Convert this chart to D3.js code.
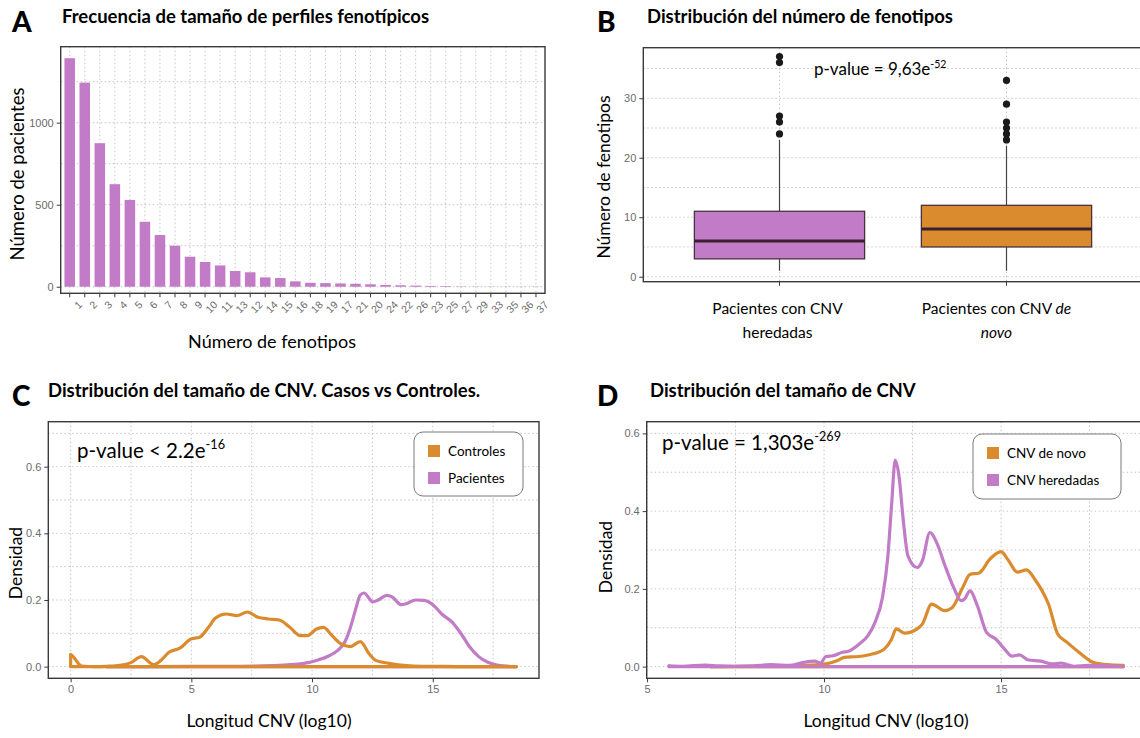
<!DOCTYPE html>
<html>
<head>
<meta charset="utf-8">
<script src="https://cdn.jsdelivr.net/npm/d3@7"></script>
<style>
  body { margin: 0; background: #fff; }
  svg { display: block; }
</style>
</head>
<body>
<svg id="fig" width="1140" height="738"></svg>
<script>
// ---------- Panel A: patients per phenotype-profile size ----------
const phenoLabels = ["1","2","3","4","5","6","7","8","9","10","11","13","12","14","15","16",
                     "18","19","17","21","20","24","22","26","23","25","27","29","33","35","36","37"];
const patientCounts = [1393, 1244, 875, 625, 529, 396, 315, 250, 183, 151, 130, 96, 88, 57, 53, 33,
                       24, 22, 20, 18, 15, 11, 9, 7, 5, 4, 2, 1, 1, 1, 1, 1];
const yTicksA = [0, 500, 1000];
const yGridA = [0, 250, 500, 750, 1000, 1250];

// ---------- Panel B: number of phenotypes per group ----------
const groupsB = ["heredadas", "denovo"];
const whiskerLow = [1, 1];
const quart1 = [3, 5];
const medians = [6, 8];
const quart3 = [11, 12];
const whiskerHigh = [23, 22];
const outliersB = [[24, 26, 27, 36, 37], [23, 24, 25, 26, 29, 33]];
const yTicksB = [0, 10, 20, 30];
const yGridB = [0, 5, 10, 15, 20, 25, 30, 35];

// ---------- Panel C: CNV length density, controls vs patients ----------
const ctrlX = [0, 0.05, 0.45, 1.0, 1.5, 2.05, 2.5, 2.93, 3.44, 3.73, 4.07, 4.54, 4.98, 5.34, 5.71, 6.0,
               6.44, 6.88, 7.32, 7.76, 8.2, 8.64, 9.08, 9.52, 9.81, 10.18, 10.47, 10.83, 11.2, 11.57,
               12.0, 12.37, 12.66, 13.18, 13.9, 14.6, 15.5, 16.5, 17.5, 18.45];
const ctrlY = [0.036, 0.034, 0.002, 0.0, 0.001, 0.004, 0.012, 0.030, 0.006, 0.018, 0.043, 0.056, 0.083,
               0.088, 0.118, 0.146, 0.158, 0.153, 0.164, 0.148, 0.143, 0.140, 0.118, 0.093, 0.093,
               0.113, 0.118, 0.093, 0.068, 0.060, 0.075, 0.038, 0.018, 0.010, 0.003, 0.001, 0.0005,
               0.0002, 0.0001, 0];
const patX = [1.5, 5, 7, 8.35, 9.66, 10.25, 10.69, 11.05, 11.35, 11.57, 11.79, 12.0, 12.15, 12.52,
              12.74, 13.1, 13.32, 13.69, 13.91, 14.28, 14.64, 15.0, 15.37, 15.81, 16.18, 16.54, 16.9,
              17.28, 17.72, 18.45];
const patY = [0, 0.0005, 0.001, 0.003, 0.010, 0.020, 0.032, 0.048, 0.073, 0.113, 0.168, 0.215, 0.221,
              0.194, 0.200, 0.214, 0.209, 0.186, 0.189, 0.200, 0.199, 0.186, 0.158, 0.133, 0.098,
              0.058, 0.030, 0.013, 0.004, 0];
const xTicksC = [0, 5, 10, 15];
const xGridC = [0, 2.5, 5, 7.5, 10, 12.5, 15, 17.5];
const yTicksC = [0, 0.2, 0.4, 0.6];
const yGridC = [0, 0.1, 0.2, 0.3, 0.4, 0.5, 0.6, 0.7];

// ---------- Panel D: CNV length density, de novo vs inherited ----------
const novoX = [6.8, 8, 9.43, 10.05, 10.36, 10.57, 10.98, 11.39, 11.7, 11.9, 12.04, 12.27, 12.63, 12.78,
               13.04, 13.4, 13.61, 13.92, 14.12, 14.38, 14.69, 15.0, 15.21, 15.46, 15.72, 15.98, 16.13,
               16.34, 16.6, 16.86, 17.2, 17.6, 18.0, 18.45];
const novoY = [0, 0.001, 0.003, 0.007, 0.015, 0.024, 0.026, 0.033, 0.045, 0.069, 0.097, 0.086, 0.097,
               0.110, 0.161, 0.144, 0.151, 0.204, 0.237, 0.241, 0.277, 0.296, 0.273, 0.243, 0.249,
               0.221, 0.200, 0.161, 0.084, 0.063, 0.037, 0.011, 0.005, 0.003];
const inhX = [5.62, 6.0, 6.65, 7.0, 7.47, 8.0, 8.5, 9.02, 9.43, 9.74, 9.9, 10.05, 10.26, 10.52, 10.67,
              10.98, 11.24, 11.44, 11.65, 11.8, 11.91, 12.01, 12.11, 12.24, 12.37, 12.63, 12.78, 12.99,
              13.2, 13.4, 13.66, 13.87, 13.97, 14.12, 14.33, 14.59, 14.85, 15.1, 15.31, 15.52, 15.77,
              16.13, 16.44, 16.7, 17.06, 17.47, 18.45];
const inhY = [0.002, 0.001, 0.004, 0.002, 0.001, 0.002, 0.005, 0.003, 0.011, 0.014, 0.009, 0.026, 0.028,
              0.037, 0.039, 0.057, 0.080, 0.114, 0.178, 0.281, 0.418, 0.531, 0.495, 0.375, 0.285,
              0.255, 0.273, 0.345, 0.315, 0.264, 0.204, 0.170, 0.174, 0.195, 0.157, 0.088, 0.071,
              0.045, 0.027, 0.030, 0.017, 0.014, 0.007, 0.009, 0.001, 0.003, 0];
const xTicksD = [5, 10, 15];
const xGridD = [5, 7.5, 10, 12.5, 15, 17.5];
const yTicksD = [0, 0.2, 0.4, 0.6];
const yGridD = [0, 0.1, 0.2, 0.3, 0.4, 0.5, 0.6];

// ---------- styling ----------
const svg = d3.select("#fig");
const TXT = "Lato, 'Open Sans', sans-serif";
const TICKF = "'Liberation Sans', Arial, sans-serif";
const PURPLE = "#c27bc6";
const ORANGE = "#da8b2e";
const FRAME = "#3a3a3a";
const GRID = "#c4c4c4";

function header(letter, title, lx, tx, base) {
  svg.append("text").attr("x", lx).attr("y", base + 9)
    .attr("font-family", TXT).attr("font-weight", 900).attr("font-size", 28).text(letter);
  svg.append("text").attr("x", tx).attr("y", base)
    .attr("font-family", TXT).attr("font-weight", 700).attr("font-size", 18.5).text(title);
}

function gridH(g, vals, y, x0, x1) {
  g.selectAll(null).data(vals).join("line")
    .attr("x1", x0).attr("x2", x1).attr("y1", d => y(d)).attr("y2", d => y(d))
    .attr("stroke", GRID).attr("stroke-width", 1).attr("stroke-dasharray", "1.5,2.5");
}
function gridV(g, vals, x, y0, y1) {
  g.selectAll(null).data(vals).join("line")
    .attr("y1", y0).attr("y2", y1).attr("x1", d => x(d)).attr("x2", d => x(d))
    .attr("stroke", GRID).attr("stroke-width", 1).attr("stroke-dasharray", "1.5,2.5");
}
function styleAxis(g) {
  g.select(".domain").remove();
  g.selectAll(".tick line").attr("stroke", FRAME).attr("stroke-width", 1);
  g.selectAll(".tick text").attr("fill", "#6b6b6b").attr("font-family", TICKF).attr("font-size", 11);
}
function frame(x0, y0, x1, y1) {
  svg.append("rect").attr("x", x0).attr("y", y0).attr("width", x1 - x0).attr("height", y1 - y0)
    .attr("fill", "none").attr("stroke", FRAME).attr("stroke-width", 1.4);
}
function axisTitleX(text, cx, base, size) {
  svg.append("text").attr("x", cx).attr("y", base).attr("text-anchor", "middle")
    .attr("font-family", TXT).attr("font-size", size).text(text);
}
function axisTitleY(text, x, cy, size) {
  svg.append("text").attr("transform", `translate(${x},${cy}) rotate(-90)`).attr("text-anchor", "middle")
    .attr("font-family", TXT).attr("font-size", size).text(text);
}
function pvalue(x, base, size, main, sup) {
  const t = svg.append("text").attr("x", x).attr("y", base)
    .attr("font-family", TXT).attr("font-size", size);
  t.append("tspan").text(main);
  t.append("tspan").attr("dy", -size * 0.42).attr("font-size", size * 0.62).text(sup);
}
function legend(x0, y0, w, h, items) {
  svg.append("rect").attr("x", x0).attr("y", y0).attr("width", w).attr("height", h).attr("rx", 9)
    .attr("fill", "#fff").attr("stroke", "#7a7a7a").attr("stroke-width", 1);
  items.forEach((it, i) => {
    const cy = y0 + 19 + i * 27;
    svg.append("rect").attr("x", x0 + 14).attr("y", cy - 6).attr("width", 12).attr("height", 12)
      .attr("fill", it.color);
    svg.append("text").attr("x", x0 + 34).attr("y", cy + 5)
      .attr("font-family", TXT).attr("font-size", 13.5).text(it.label);
  });
}
function density(g, xs, ys, x, y, color) {
  const pts = xs.map((d, i) => [x(d), y(ys[i])]);
  g.append("path").attr("d", d3.line().curve(d3.curveMonotoneX)(pts))
    .attr("fill", "none").attr("stroke", color).attr("stroke-width", 3.2)
    .attr("stroke-linejoin", "round").attr("stroke-linecap", "round");
  const n = xs.length - 1;
  const close = [[x(xs[n]), y(ys[n])], [x(xs[n]), y(0)], [x(xs[0]), y(0)], [x(xs[0]), y(ys[0])]];
  g.append("path").attr("d", d3.line()(close))
    .attr("fill", "none").attr("stroke", color).attr("stroke-width", 3.2)
    .attr("stroke-linejoin", "round").attr("stroke-linecap", "round");
}

// ================= Panel A =================
header("A", "Frecuencia de tamaño de perfiles fenotípicos", 12, 62, 23);
{
  const L = 60.7, R = 545, T = 46.7, B = 293.3;
  const x = d3.scaleBand().domain(phenoLabels).range([L, R]).paddingInner(0.3).paddingOuter(0.25);
  const y = d3.scaleLinear().domain([-40, 1463]).range([B, T]);
  const g = svg.append("g");
  gridH(g, yGridA, y, L, R);
  gridV(g, phenoLabels, d => x(d) + x.bandwidth() / 2, T, B);
  g.selectAll(null).data(phenoLabels).join("rect")
    .attr("x", d => x(d)).attr("width", x.bandwidth())
    .attr("y", (d, i) => y(patientCounts[i]))
    .attr("height", (d, i) => y(0) - y(patientCounts[i]))
    .attr("fill", PURPLE);
  const ay = svg.append("g").attr("transform", `translate(${L},0)`)
    .call(d3.axisLeft(y).tickValues(yTicksA).tickFormat(d3.format("d")).tickSize(4).tickPadding(3));
  styleAxis(ay);
  const ax = svg.append("g").attr("transform", `translate(0,${B})`)
    .call(d3.axisBottom(x).tickSize(4).tickPadding(3));
  styleAxis(ax);
  ax.selectAll(".tick text").attr("text-anchor", "end").attr("font-size", 10.5)
    .attr("transform", "translate(3,2) rotate(-45)").attr("dy", "0.7em");
  frame(L, T, R, B);
  axisTitleY("Número de pacientes", 24, 174, 18.5);
  axisTitleX("Número de fenotipos", 272, 348, 18);
}

// ================= Panel B =================
header("B", "Distribución del número de fenotipos", 597, 647, 23);
{
  const L = 643.3, R = 1142.7, T = 47.7, B = 281.7;
  const x = d3.scaleBand().domain(groupsB).range([L, R]).paddingInner(0.25).paddingOuter(0.225);
  const y = d3.scaleLinear().domain([-0.84, 38.5]).range([B, T]);
  const cx = d => x(d) + x.bandwidth() / 2;
  const g = svg.append("g");
  gridH(g, yGridB, y, L, R);
  gridV(g, groupsB, cx, T, B);
  const fills = [PURPLE, ORANGE];
  groupsB.forEach((grp, i) => {
    const c = cx(grp);
    g.append("line").attr("x1", c).attr("x2", c).attr("y1", y(whiskerLow[i])).attr("y2", y(quart1[i]))
      .attr("stroke", "#444").attr("stroke-width", 1.2);
    g.append("line").attr("x1", c).attr("x2", c).attr("y1", y(quart3[i])).attr("y2", y(whiskerHigh[i]))
      .attr("stroke", "#444").attr("stroke-width", 1.2);
    g.append("rect").attr("x", x(grp)).attr("width", x.bandwidth())
      .attr("y", y(quart3[i])).attr("height", y(quart1[i]) - y(quart3[i]))
      .attr("fill", fills[i]).attr("stroke", "#4a3040").attr("stroke-width", 1.3);
    g.append("line").attr("x1", x(grp)).attr("x2", x(grp) + x.bandwidth())
      .attr("y1", y(medians[i])).attr("y2", y(medians[i]))
      .attr("stroke", "#3a2030").attr("stroke-width", 3);
    g.selectAll(null).data(outliersB[i]).join("circle")
      .attr("cx", c).attr("cy", d => y(d)).attr("r", 3.6).attr("fill", "#1a1a1a");
  });
  const ay = svg.append("g").attr("transform", `translate(${L},0)`)
    .call(d3.axisLeft(y).tickValues(yTicksB).tickSize(4).tickPadding(3));
  styleAxis(ay);
  const ax = svg.append("g").attr("transform", `translate(0,${B})`)
    .call(d3.axisBottom(x).tickSize(4).tickFormat(""));
  styleAxis(ax);
  frame(L, T, R, B);
  axisTitleY("Número de fenotipos", 610, 177, 17.5);
  // category labels
  const c1 = cx(groupsB[0]), c2 = cx(groupsB[1]);
  axisTitleX("Pacientes con CNV", c1 - 2, 314, 15.5);
  axisTitleX("heredadas", c1 - 2, 338, 15.5);
  const t2 = svg.append("text").attr("x", c2 - 10).attr("y", 314).attr("text-anchor", "middle")
    .attr("font-family", TXT).attr("font-size", 15.5);
  t2.append("tspan").text("Pacientes con CNV ");
  t2.append("tspan").attr("font-style", "italic").text("de");
  svg.append("text").attr("x", c2 - 10).attr("y", 338).attr("text-anchor", "middle")
    .attr("font-family", TXT).attr("font-size", 15.5).attr("font-style", "italic").text("novo");
  pvalue(814, 75, 17, "p-value = 9,63e", "-52");
}

// ================= Panel C =================
header("C", "Distribución del tamaño de CNV. Casos vs Controles.", 12, 48, 397);
{
  const L = 48.3, R = 539, T = 421.7, B = 678.3;
  const x = d3.scaleLinear().domain([-0.925, 19.4]).range([L, R]);
  const y = d3.scaleLinear().domain([-0.035, 0.735]).range([B, T]);
  const g = svg.append("g");
  gridH(g, yGridC, y, L, R);
  gridV(g, xGridC, x, T, B);
  density(g, patX, patY, x, y, PURPLE);
  density(g, ctrlX, ctrlY, x, y, ORANGE);
  const ay = svg.append("g").attr("transform", `translate(${L},0)`)
    .call(d3.axisLeft(y).tickValues(yTicksC).tickFormat(d3.format(".1f")).tickSize(4).tickPadding(3));
  styleAxis(ay);
  const ax = svg.append("g").attr("transform", `translate(0,${B})`)
    .call(d3.axisBottom(x).tickValues(xTicksC).tickSize(4).tickPadding(3));
  styleAxis(ax);
  frame(L, T, R, B);
  axisTitleY("Densidad", 22, 563, 17.5);
  axisTitleX("Longitud CNV (log10)", 269, 727, 17.5);
  pvalue(77, 458, 20.5, "p-value < 2.2e", "-16");
  legend(414, 432, 109, 64, [{ label: "Controles", color: ORANGE }, { label: "Pacientes", color: PURPLE }]);
}

// ================= Panel D =================
header("D", "Distribución del tamaño de CNV", 597, 650, 397);
{
  const L = 646.7, R = 1148.3, T = 421.7, B = 678.3;
  const x = d3.scaleLinear().domain([4.99, 19.16]).range([L, R]);
  const y = d3.scaleLinear().domain([-0.03, 0.63]).range([B, T]);
  const g = svg.append("g");
  gridH(g, yGridD, y, L, R);
  gridV(g, xGridD, x, T, B);
  density(g, novoX, novoY, x, y, ORANGE);
  density(g, inhX, inhY, x, y, PURPLE);
  const ay = svg.append("g").attr("transform", `translate(${L},0)`)
    .call(d3.axisLeft(y).tickValues(yTicksD).tickFormat(d3.format(".1f")).tickSize(4).tickPadding(3));
  styleAxis(ay);
  const ax = svg.append("g").attr("transform", `translate(0,${B})`)
    .call(d3.axisBottom(x).tickValues(xTicksD).tickSize(4).tickPadding(3));
  styleAxis(ax);
  frame(L, T, R, B);
  axisTitleY("Densidad", 612, 557, 17.5);
  axisTitleX("Longitud CNV (log10)", 886, 727, 17.5);
  pvalue(662, 450, 20.5, "p-value = 1,303e", "-269");
  legend(973, 434, 148, 65, [{ label: "CNV de novo", color: ORANGE }, { label: "CNV heredadas", color: PURPLE }]);
}
</script>
</body>
</html>
